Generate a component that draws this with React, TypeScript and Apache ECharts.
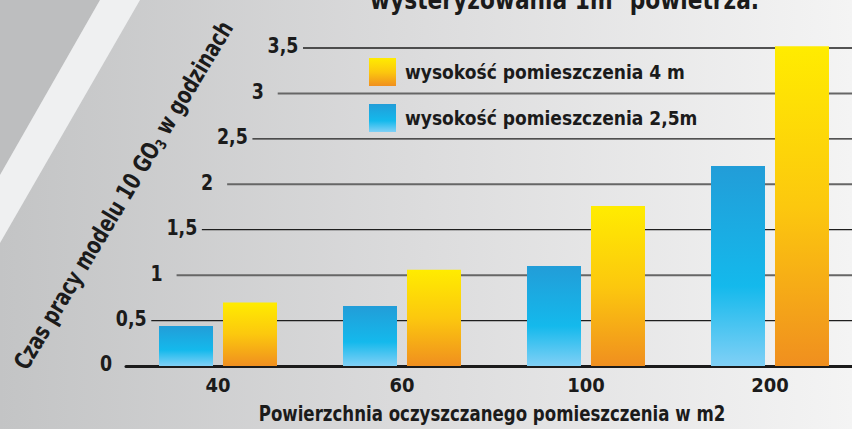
import React, { useEffect, useRef } from "react";
import * as echarts from "echarts";

const categories = ["40", "60", "100", "200"];
const series25m = [0.44, 0.66, 1.1, 2.2];
const series4m = [0.7, 1.06, 1.76, 3.52];
const yTicks = [0, 0.5, 1, 1.5, 2, 2.5, 3, 3.5];
const yTickLabels = ["0", "0,5", "1", "1,5", "2", "2,5", "3", "3,5"];
const name25 = "wysokość pomieszczenia 2,5m";
const name4 = "wysokość pomieszczenia 4 m";
const titleText = "wysteryzowania 1m³ powietrza.";
const xName = "Powierzchnia oczyszczanego pomieszczenia w m2";

const FONT = "'Liberation Sans Narrow', 'DejaVu Sans Condensed', 'Noto Sans', sans-serif";
const INK = "#1b1b1b";
const SLOPE = 0.5566;

export default function App() {
  const ref = useRef<HTMLDivElement>(null);
  useEffect(() => {
    document.body.style.margin = "0";
    const chart = echarts.init(ref.current!, null, { renderer: "svg" });
    const blue = new echarts.graphic.LinearGradient(0, 0, 0, 1, [
      { offset: 0, color: "#229dd8" },
      { offset: 0.6, color: "#14b9ec" },
      { offset: 1, color: "#80d0f6" },
    ]);
    const orange = new echarts.graphic.LinearGradient(0, 0, 0, 1, [
      { offset: 0, color: "#ffec00" },
      { offset: 0.5, color: "#fcc80e" },
      { offset: 1, color: "#f08f1f" },
    ]);
    const option: any = {
      animation: false,
      backgroundColor: new echarts.graphic.LinearGradient(0, 0, 1, 0, [
        { offset: 0, color: "#c3c4c5" },
        { offset: 0.5, color: "#dcdcdd" },
        { offset: 1, color: "#f4f4f4" },
      ]),
      graphic: [
        {
          type: "polygon",
          z: -10,
          shape: { points: [[0, 0], [100, 0], [0, 175]] },
          style: { fill: "#bdbebf" },
        },
        {
          type: "polygon",
          z: -10,
          shape: { points: [[100, 0], [140, 0], [0, 243], [0, 175]] },
          style: { fill: "#eff0f1" },
        },
        {
          type: "text",
          x: 370,
          y: 13,
          scaleX: 0.93,
          style: {
            text: titleText,
            fontFamily: FONT,
            fontWeight: "bold",
            fontSize: 26,
            fill: INK,
            align: "left",
            verticalAlign: "bottom",
          },
        },
        {
          type: "text",
          x: 123,
          y: 195,
          rotation: (59 * Math.PI) / 180,
          scaleX: 0.84,
          style: {
            text: "{a|Czas pracy modelu 10 GO}{s|3}{a| w godzinach}",
            align: "center",
            verticalAlign: "middle",
            fill: INK,
            rich: {
              a: { fontFamily: FONT, fontWeight: "bold", fontSize: 24, fill: INK, lineHeight: 28 },
              s: { fontFamily: FONT, fontWeight: "bold", fontSize: 15, fill: INK, lineHeight: 28, verticalAlign: "bottom", padding: [12, 0, 0, 0] },
            },
          },
        },
        {
          type: "text",
          x: 492,
          y: 413,
          scaleX: 0.84,
          style: {
            text: xName,
            fontFamily: FONT,
            fontWeight: "bold",
            fontSize: 22,
            fill: INK,
            align: "center",
            verticalAlign: "middle",
          },
        },
      ],
      legend: {
        data: [name4, name25],
        orient: "vertical",
        left: 369,
        top: 58,
        padding: 0,
        itemWidth: 27,
        itemHeight: 28,
        itemGap: 18,
        icon: "rect",
        textStyle: {
          fontFamily: FONT,
          fontWeight: "bold",
          fontSize: 19,
          color: INK,
          padding: [0, 0, 0, 4],
        },
      },
      grid: { left: 126, right: -10, top: 48, bottom: 63, outerBoundsMode: "none", containLabel: false },
      xAxis: {
        type: "category",
        data: categories,
        axisLine: { show: true, lineStyle: { color: INK, width: 3 } },
        axisTick: { show: false },
        axisLabel: { fontFamily: FONT, fontWeight: "bold", fontSize: 20, color: INK, margin: 9 },
      },
      yAxis: {
        type: "value",
        min: 0,
        max: 3.5,
        interval: 0.5,
        axisLabel: { show: false },
        axisLine: { show: false },
        axisTick: { show: false },
        splitLine: { show: false },
      },
      series: [
        {
          type: "custom",
          name: "grid",
          z: 1,
          silent: true,
          clip: false,
          encode: { x: 0, y: 1 },
          data: yTicks.map((v) => [0, v]),
          renderItem: (params: any, api: any) => {
            const v = api.value(1);
            const y = api.coord([0, v])[1];
            const y0 = api.coord([0, 0])[1];
            const cs = params.coordSys;
            const x0 = cs.x + (y0 - y) * SLOPE;
            const children: any[] = [];
            if (v > 0) {
              const isInt = Math.abs(v - Math.round(v)) < 1e-6;
              children.push({
                type: "line",
                shape: { x1: x0, y1: y, x2: cs.x + cs.width, y2: y },
                style: { stroke: isInt ? "#666666" : "#1e1e1e", lineWidth: isInt ? 2 : 1.3 },
              });
            }
            children.push({
              type: "text",
              x: x0 - 20,
              y: y - 2,
              scaleX: 0.88,
              style: {
                text: yTickLabels[params.dataIndex],
                fontFamily: FONT,
                fontWeight: "bold",
                fontSize: 22,
                fill: INK,
                align: "center",
                verticalAlign: "middle",
              },
            });
            return { type: "group", children };
          },
        },
        {
          type: "bar",
          name: name25,
          z: 2,
          clip: false,
          data: series25m,
          barWidth: 54,
          barGap: "18.5%",
          itemStyle: { color: blue },
        },
        {
          type: "bar",
          name: name4,
          z: 2,
          clip: false,
          data: series4m,
          barWidth: 54,
          itemStyle: { color: orange },
        },
      ],
    };
    chart.setOption(option);
    return () => chart.dispose();
  }, []);
  return <div ref={ref} style={{ width: 852, height: 429 }} />;
}
